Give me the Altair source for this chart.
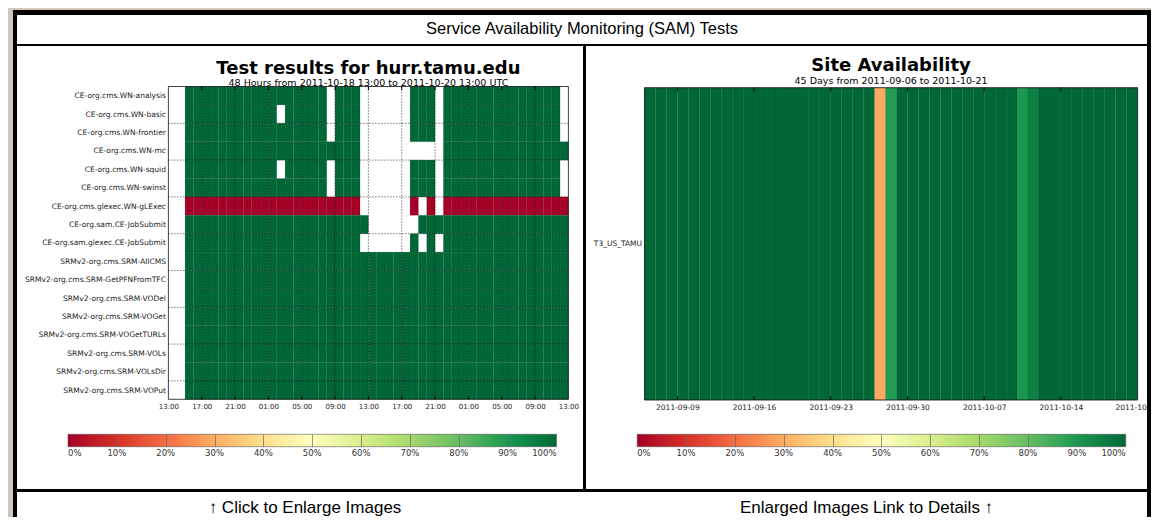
import json
import pandas as pd
import altair as alt

# ------------------------------------------------------------------ data
band_title = "Service Availability Monitoring (SAM) Tests"
left_title = "Test results for hurr.tamu.edu"
left_subtitle = "48 Hours from 2011-10-18 13:00 to 2011-10-20 13:00 UTC"
right_title = "Site Availability"
right_subtitle = "45 Days from 2011-09-06 to 2011-10-21"
bottom_left = "\u2191 Click to Enlarge Images"
bottom_right = "Enlarged Images Link to Details \u2191"

# Left panel: SAM test results, one character per hour, 48 hours from
# 2011-10-18 13:00 UTC ('|' only separates 4-hour blocks).
# G = test OK (100 %), R = test failed (0 %), - = no result
tests = [
    "CE-org.cms.WN-analysis",
    "CE-org.cms.WN-basic",
    "CE-org.cms.WN-frontier",
    "CE-org.cms.WN-mc",
    "CE-org.cms.WN-squid",
    "CE-org.cms.WN-swinst",
    "CE-org.cms.glexec.WN-gLExec",
    "CE-org.sam.CE-JobSubmit",
    "CE-org.sam.glexec.CE-JobSubmit",
    "SRMv2-org.cms.SRM-AllCMS",
    "SRMv2-org.cms.SRM-GetPFNFromTFC",
    "SRMv2-org.cms.SRM-VODel",
    "SRMv2-org.cms.SRM-VOGet",
    "SRMv2-org.cms.SRM-VOGetTURLs",
    "SRMv2-org.cms.SRM-VOLs",
    "SRMv2-org.cms.SRM-VOLsDir",
    "SRMv2-org.cms.SRM-VOPut",
]
results = [
    "--GG|GGGG|GGGG|GGGG|GGG-|GGG-|----|-GGG|-GGG|GGGG|GGGG|GGG-",
    "--GG|GGGG|GGGG|G-GG|GGG-|GGG-|----|-GGG|-GGG|GGGG|GGGG|GGG-",
    "--GG|GGGG|GGGG|GGGG|GGG-|GGG-|----|-GGG|-GGG|GGGG|GGGG|GGG-",
    "--GG|GGGG|GGGG|GGGG|GGGG|GGG-|----|----|-GGG|GGGG|GGGG|GGGG",
    "--GG|GGGG|GGGG|G-GG|GGG-|GGG-|----|-GGG|-GGG|GGGG|GGGG|GGG-",
    "--GG|GGGG|GGGG|GGGG|GGG-|GGG-|----|-GGG|-GGG|GGGG|GGGG|GGG-",
    "--RR|RRRR|RRRR|RRRR|RRRR|RRR-|----|-R-R|-RRR|RRRR|RRRR|RRRR",
    "--GG|GGGG|GGGG|GGGG|GGGG|GGGG|----|--GG|GGGG|GGGG|GGGG|GGGG",
    "--GG|GGGG|GGGG|GGGG|GGGG|GGG-|----|-G-G|-GGG|GGGG|GGGG|GGGG",
    "--GG|GGGG|GGGG|GGGG|GGGG|GGGG|GGGG|GGGG|GGGG|GGGG|GGGG|GGGG",
    "--GG|GGGG|GGGG|GGGG|GGGG|GGGG|GGGG|GGGG|GGGG|GGGG|GGGG|GGGG",
    "--GG|GGGG|GGGG|GGGG|GGGG|GGGG|GGGG|GGGG|GGGG|GGGG|GGGG|GGGG",
    "--GG|GGGG|GGGG|GGGG|GGGG|GGGG|GGGG|GGGG|GGGG|GGGG|GGGG|GGGG",
    "--GG|GGGG|GGGG|GGGG|GGGG|GGGG|GGGG|GGGG|GGGG|GGGG|GGGG|GGGG",
    "--GG|GGGG|GGGG|GGGG|GGGG|GGGG|GGGG|GGGG|GGGG|GGGG|GGGG|GGGG",
    "--GG|GGGG|GGGG|GGGG|GGGG|GGGG|GGGG|GGGG|GGGG|GGGG|GGGG|GGGG",
    "--GG|GGGG|GGGG|GGGG|GGGG|GGGG|GGGG|GGGG|GGGG|GGGG|GGGG|GGGG",
]
status_value = {"G": 100, "R": 0}
hour_ticks = [0, 4, 8, 12, 16, 20, 24, 28, 32, 36, 40, 44, 48]
hour_labels = ["13:00", "17:00", "21:00", "01:00", "05:00", "09:00", "13:00",
               "17:00", "21:00", "01:00", "05:00", "09:00", "13:00"]
row_grid = [2, 4, 6, 8, 10, 12, 14, 16]

# Right panel: daily site availability (%), 45 days from 2011-09-06
site = ["T3_US_TAMU"]
availability = [
    100, 100, 100, 100, 100, 100, 100,   # 09-06 .. 09-12
    100, 100, 100, 100, 100, 100, 100,   # 09-13 .. 09-19
    100, 100, 100, 100, 100, 100, 100,   # 09-20 .. 09-26
    29, 89, 100, 100, 100, 100, 100,     # 09-27 .. 10-03
    100, 100, 100, 100, 100, 100, 90,    # 10-04 .. 10-10
    95, 100, 100, 100, 100, 100, 100,    # 10-11 .. 10-17
    100, 100, 100,                       # 10-18 .. 10-20
]
day_ticks = [3, 10, 17, 24, 31, 38, 45]
# the last label is clipped to "2011-10" at the image edge in the original
day_labels = ["2011-09-09", "2011-09-16", "2011-09-23", "2011-09-30",
              "2011-10-07", "2011-10-14", "2011-10"]

cbar_ticks = [0, 10, 20, 30, 40, 50, 60, 70, 80, 90, 100]
RDYLGN = ["#a50026", "#d73027", "#f46d43", "#fdae61", "#fee08b", "#ffffbf",
          "#d9ef8b", "#a6d96a", "#66bd63", "#1a9850", "#006837"]

# ------------------------------------------------------------------ layout
W, H = 1143, 509
BG = "#d0c9bb"
LX0, LX1, LY0, LY1 = 160.4, 560.4, 78.5, 391.3
RX0, RX1, RY0, RY1 = 636.5, 1129.6, 79.7, 392.0
CB_Y0, CB_Y1 = 426.3, 438.7
CB_LEN = 488.5
CBL0, CBR0 = 60.0, 629.2
TICK_PX = 3.5
FONT = "DejaVu Sans"
HTML_FONT = "Liberation Sans, Arial, sans-serif"

one = pd.DataFrame({"k": [0]})


def box(x0, x1, y0, y1, color):
    return alt.Chart(one).mark_rect(color=color, strokeWidth=0).encode(
        x=alt.value(x0), x2=alt.value(x1), y=alt.value(y0), y2=alt.value(y1))


def text(t, x, y, size, weight="normal", font=FONT, baseline="alphabetic"):
    return alt.Chart(pd.DataFrame({"t": [t]})).mark_text(
        font=font, fontSize=size, fontWeight=weight, align="center",
        baseline=baseline, color="#000").encode(
        x=alt.value(x), y=alt.value(y), text="t:N")


color_scale = alt.Scale(domain=cbar_ticks, range=RDYLGN, interpolate="rgb")


def cbar_legend(x0):
    return alt.Legend(orient="none", legendX=x0, legendY=CB_Y0,
                      direction="horizontal", gradientLength=CB_LEN,
                      gradientThickness=CB_Y1 - CB_Y0, title=None,
                      values=cbar_ticks, labelExpr="datum.value + '%'",
                      labelAlign="center", labelFont=FONT, labelFontSize=8.5,
                      labelColor="#333", labelOffset=2.5, labelOverlap=False,
                      gradientStrokeColor="#555", gradientStrokeWidth=0.6,
                      padding=0, zindex=1)


def axis(**kw):
    return alt.Axis(title=None, ticks=False, domain=False, grid=False,
                    labelFont=FONT, labelColor="#222", labelFlush=False,
                    labelOverlap=False, labelBound=False, zindex=1, **kw)


def tick_df(xs, n, frac):
    return pd.DataFrame({
        "x0": list(xs) * 2,
        "y0": [0] * len(xs) + [n - frac] * len(xs),
        "y1": [frac] * len(xs) + [n] * len(xs),
    })


grid_style = dict(color="#000", strokeWidth=0.8, strokeDash=[1, 2])

# ---------------- left heatmap
n_rows = len(tests)
n_hours = len(results[0].replace("|", ""))
recs = []
for i, (name, pat) in enumerate(zip(tests, results)):
    for h, ch in enumerate(pat.replace("|", "")):
        if ch in status_value:
            recs.append({"x0": h, "x1": h + 1, "y0": i, "y1": i + 1,
                         "v": status_value[ch], "test": name})
left_df = pd.DataFrame(recs)

lx = alt.Scale(domain=[0, n_hours], range=[LX0, LX1], nice=False, zero=False)
ly = alt.Scale(domain=[0, n_rows], range=[LY0, LY1], nice=False, zero=False)
lx_axis = axis(
    orient="bottom", offset=LY1 - H, values=hour_ticks,
    labelExpr=f"{json.dumps(hour_labels)}[indexof({json.dumps(hour_ticks)}, datum.value)]",
    labelFontSize=7, labelPadding=3)
ly_axis = axis(
    orient="left", offset=-LX0, values=[i + 0.5 for i in range(n_rows)],
    labelExpr=f"{json.dumps(tests)}[floor(datum.value)]",
    labelFontSize=7.5, labelPadding=3)
LXE = dict(scale=lx, axis=lx_axis)
LYE = dict(scale=ly, axis=ly_axis)

left_cells = alt.Chart(left_df).mark_rect(
    stroke="#000", strokeWidth=0.4, strokeOpacity=0.25).encode(
    x=alt.X("x0:Q", **LXE), x2="x1:Q",
    y=alt.Y("y0:Q", **LYE), y2="y1:Q",
    color=alt.Color("v:Q", scale=color_scale, legend=cbar_legend(CBL0)),
)
left_vgrid = alt.Chart(pd.DataFrame({"x0": hour_ticks[1:-1], "y0": 0, "y1": n_rows})).mark_rule(
    **grid_style).encode(x=alt.X("x0:Q", **LXE), y=alt.Y("y0:Q", **LYE), y2="y1:Q")
left_hgrid = alt.Chart(pd.DataFrame({"y0": row_grid, "x0": 0, "x1": n_hours})).mark_rule(
    **grid_style).encode(x=alt.X("x0:Q", **LXE), x2="x1:Q", y=alt.Y("y0:Q", **LYE))
lfrac = TICK_PX / (LY1 - LY0) * n_rows
left_ticks = alt.Chart(tick_df(hour_ticks[1:-1], n_rows, lfrac)).mark_rule(
    color="#000", strokeWidth=1).encode(
    x=alt.X("x0:Q", **LXE), y=alt.Y("y0:Q", **LYE), y2="y1:Q")
left_frame = alt.Chart(pd.DataFrame({"x0": [0], "x1": [n_hours], "y0": [0], "y1": [n_rows]})).mark_rect(
    fillOpacity=0, stroke="#111", strokeWidth=0.8).encode(
    x=alt.X("x0:Q", **LXE), x2="x1:Q", y=alt.Y("y0:Q", **LYE), y2="y1:Q")
left_group = alt.layer(left_cells, left_vgrid, left_hgrid, left_ticks, left_frame)

# ---------------- right heatmap
n_days = len(availability)
right_df = pd.DataFrame({"x0": list(range(n_days)), "x1": list(range(1, n_days + 1)),
                         "y0": 0, "y1": 1, "v": availability})
rx = alt.Scale(domain=[0, n_days], range=[RX0, RX1], nice=False, zero=False)
ry = alt.Scale(domain=[0, len(site)], range=[RY0, RY1], nice=False, zero=False)
rx_axis = axis(
    orient="bottom", offset=RY1 - H, values=day_ticks,
    labelExpr=f"{json.dumps(day_labels)}[indexof({json.dumps(day_ticks)}, datum.value)]",
    labelFontSize=7.5, labelPadding=3,
    labelOffset={"condition": {"test": f"datum.value >= {day_ticks[-1]}", "value": -7},
                 "value": 0})
ry_axis = axis(
    orient="left", offset=-RX0, values=[i + 0.5 for i in range(len(site))],
    labelExpr=f"{json.dumps(site)}[floor(datum.value)]",
    labelFontSize=7.5, labelPadding=3)
RXE = dict(scale=rx, axis=rx_axis)
RYE = dict(scale=ry, axis=ry_axis)

right_cells = alt.Chart(right_df).mark_rect(
    stroke="#000", strokeWidth=0.5, strokeOpacity=0.2).encode(
    x=alt.X("x0:Q", **RXE), x2="x1:Q",
    y=alt.Y("y0:Q", **RYE), y2="y1:Q",
    color=alt.Color("v:Q", scale=color_scale, legend=cbar_legend(CBR0)),
)
rfrac = TICK_PX / (RY1 - RY0) * len(site)
right_ticks = alt.Chart(tick_df(day_ticks[:-1], len(site), rfrac)).mark_rule(
    color="#000", strokeWidth=1).encode(
    x=alt.X("x0:Q", **RXE), y=alt.Y("y0:Q", **RYE), y2="y1:Q")
right_frame = alt.Chart(pd.DataFrame({"x0": [0], "x1": [n_days], "y0": [0], "y1": [len(site)]})).mark_rect(
    fillOpacity=0, stroke="#111", strokeWidth=0.8).encode(
    x=alt.X("x0:Q", **RXE), x2="x1:Q", y=alt.Y("y0:Q", **RYE), y2="y1:Q")
right_group = alt.layer(right_cells, right_ticks, right_frame)


# ---------------- colorbar dividers (drawn as axis ticks across the gradients)
def cbar_dividers(x0):
    sc = alt.Scale(domain=[cbar_ticks[0], cbar_ticks[-1]], range=[x0, x0 + CB_LEN],
                   nice=False, zero=False)
    ax = alt.Axis(orient="bottom", offset=CB_Y0 - H, values=cbar_ticks[1:-1],
                  labels=False, domain=False, grid=False, ticks=True,
                  tickSize=CB_Y1 - CB_Y0, tickColor="#666", tickWidth=0.7,
                  title=None, zindex=2)
    return alt.Chart(pd.DataFrame({"p": cbar_ticks[1:-1]})).mark_tick(opacity=0).encode(
        x=alt.X("p:Q", scale=sc, axis=ax))


layers = [
    box(5, W, 2, H, "#000"),
    box(9, 1139, 7, 36, "#fff"),
    box(9, 575, 38, 481, "#fff"),
    box(578, 1139, 38, 481, "#fff"),
    box(9, 1139, 484, H, "#fff"),
    text(band_title, 574, 20.5, 16.5, font=HTML_FONT, baseline="middle"),
    text(left_title, (LX0 + LX1) / 2, 66, 18, "bold"),
    text(left_subtitle, (LX0 + LX1) / 2, 77.5, 9.5),
    text(right_title, (RX0 + RX1) / 2, 62.5, 18, "bold"),
    text(right_subtitle, (RX0 + RX1) / 2, 75.5, 9.5),
    text(bottom_left, 297, 500, 17, font=HTML_FONT, baseline="middle"),
    text(bottom_right, 858.5, 500, 17, font=HTML_FONT, baseline="middle"),
    left_group,
    right_group,
    cbar_dividers(CBL0),
    cbar_dividers(CBR0),
]

chart = alt.layer(*layers).resolve_scale(
    x="independent", y="independent", color="independent"
).properties(
    width=W, height=H, padding=0,
    autosize=alt.AutoSizeParams(type="none"), background=BG,
).configure_view(strokeWidth=0).configure_axis(labelOverlap=False)

chart.save("out.html", embed_options={"renderer": "svg", "actions": False})
